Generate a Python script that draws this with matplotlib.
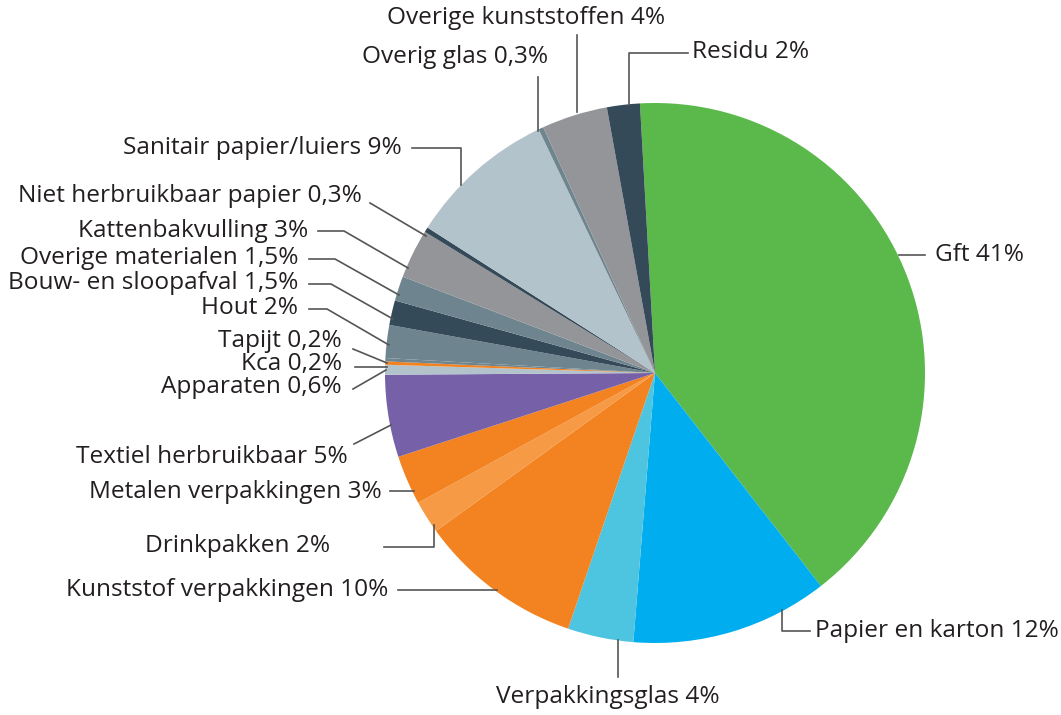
import matplotlib.pyplot as plt

plt.rcParams['font.family'] = ['Open Sans', 'DejaVu Sans']

# samenstelling restafval (%)
labels = ['Gft 41%', 'Papier en karton 12%', 'Verpakkingsglas 4%',
          'Kunststof verpakkingen 10%', 'Drinkpakken 2%', 'Metalen verpakkingen 3%',
          'Textiel herbruikbaar 5%', 'Apparaten 0,6%', 'Kca 0,2%', 'Tapijt 0,2%',
          'Hout 2%', 'Bouw- en sloopafval 1,5%', 'Overige materialen 1,5%',
          'Kattenbakvulling 3%', 'Niet herbruikbaar papier 0,3%',
          'Sanitair papier/luiers 9%', 'Overig glas 0,3%', 'Overige kunststoffen 4%',
          'Residu 2%']
values = [41, 12, 4, 10, 2, 3, 5, 0.6, 0.2, 0.2, 2, 1.5, 1.5, 3, 0.3, 9, 0.3, 4, 2]
colors = ['#5BB94B', '#00AEEF', '#4DC5E0', '#F38321', '#F79A45', '#F38321',
          '#7660A8', '#B3C3CC', '#F38321', '#6E858F', '#6E858F', '#344A58',
          '#6E858F', '#939598', '#344A58', '#B3C3CC', '#6E858F', '#939598',
          '#344A58']

W, H = 1061, 715


def P(x, y):
    # pixel coords (y down) -> data coords (y up)
    return x, H - y


# label layout: text position, alignment, leader polyline (pixels)
layout = [
    ((935, 255), 'left', [(925, 255), (899, 255)]),
    ((815, 631), 'left', [(810, 631), (782, 631), (782, 610)]),
    ((608, 697), 'center', [(618, 677), (618, 640)]),
    ((388, 590), 'right', [(398, 590), (497, 590)]),
    ((330, 546), 'right', [(384, 547), (434, 547), (434, 525)]),
    ((382, 492), 'right', [(390, 491), (414, 491)]),
    ((348, 457), 'right', [(354, 444), (391, 425)]),
    ((342, 387), 'right', [(353, 389), (386, 370)]),
    ((342, 364), 'right', [(355, 367), (387, 367)]),
    ((342, 341), 'right', [(353, 349), (387, 363)]),
    ((298, 308), 'right', [(309, 309), (327, 309), (389, 345)]),
    ((298, 283), 'right', [(309, 284), (331, 284), (393, 319)]),
    ((298, 258), 'right', [(309, 259), (335, 259), (399, 295)]),
    ((308, 231), 'right', [(318, 231), (344, 231), (408, 268)]),
    ((362, 196), 'right', [(370, 203), (426, 236)]),
    ((402, 148), 'right', [(412, 148), (461, 148), (461, 185)]),
    ((548, 57), 'right', [(538, 77), (538, 131)]),
    ((526, 18), 'center', [(577, 35), (577, 112)]),
    ((692, 52), 'left', [(688, 53), (629, 53), (629, 105)]),
]

fig = plt.figure(figsize=(W / 100, H / 100), dpi=100)
ax = fig.add_axes([0, 0, 1, 1])

ax.pie(values, colors=colors, startangle=93.2, counterclock=False,
       center=P(655, 373), radius=270, wedgeprops=dict(linewidth=0))

for lab, ((tx, ty), ha, line) in zip(labels, layout):
    xs = [p[0] for p in line]
    ys = [H - p[1] for p in line]
    ax.plot(xs, ys, color='#555555', lw=1.2, zorder=1)
    ax.text(*P(tx, ty), lab, ha=ha, va='center', fontsize=17.6, color='#231F20')

ax.set_xlim(0, W)
ax.set_ylim(0, H)
ax.set_aspect('equal')
ax.axis('off')

fig.savefig('out.png', dpi=100, facecolor='white')
